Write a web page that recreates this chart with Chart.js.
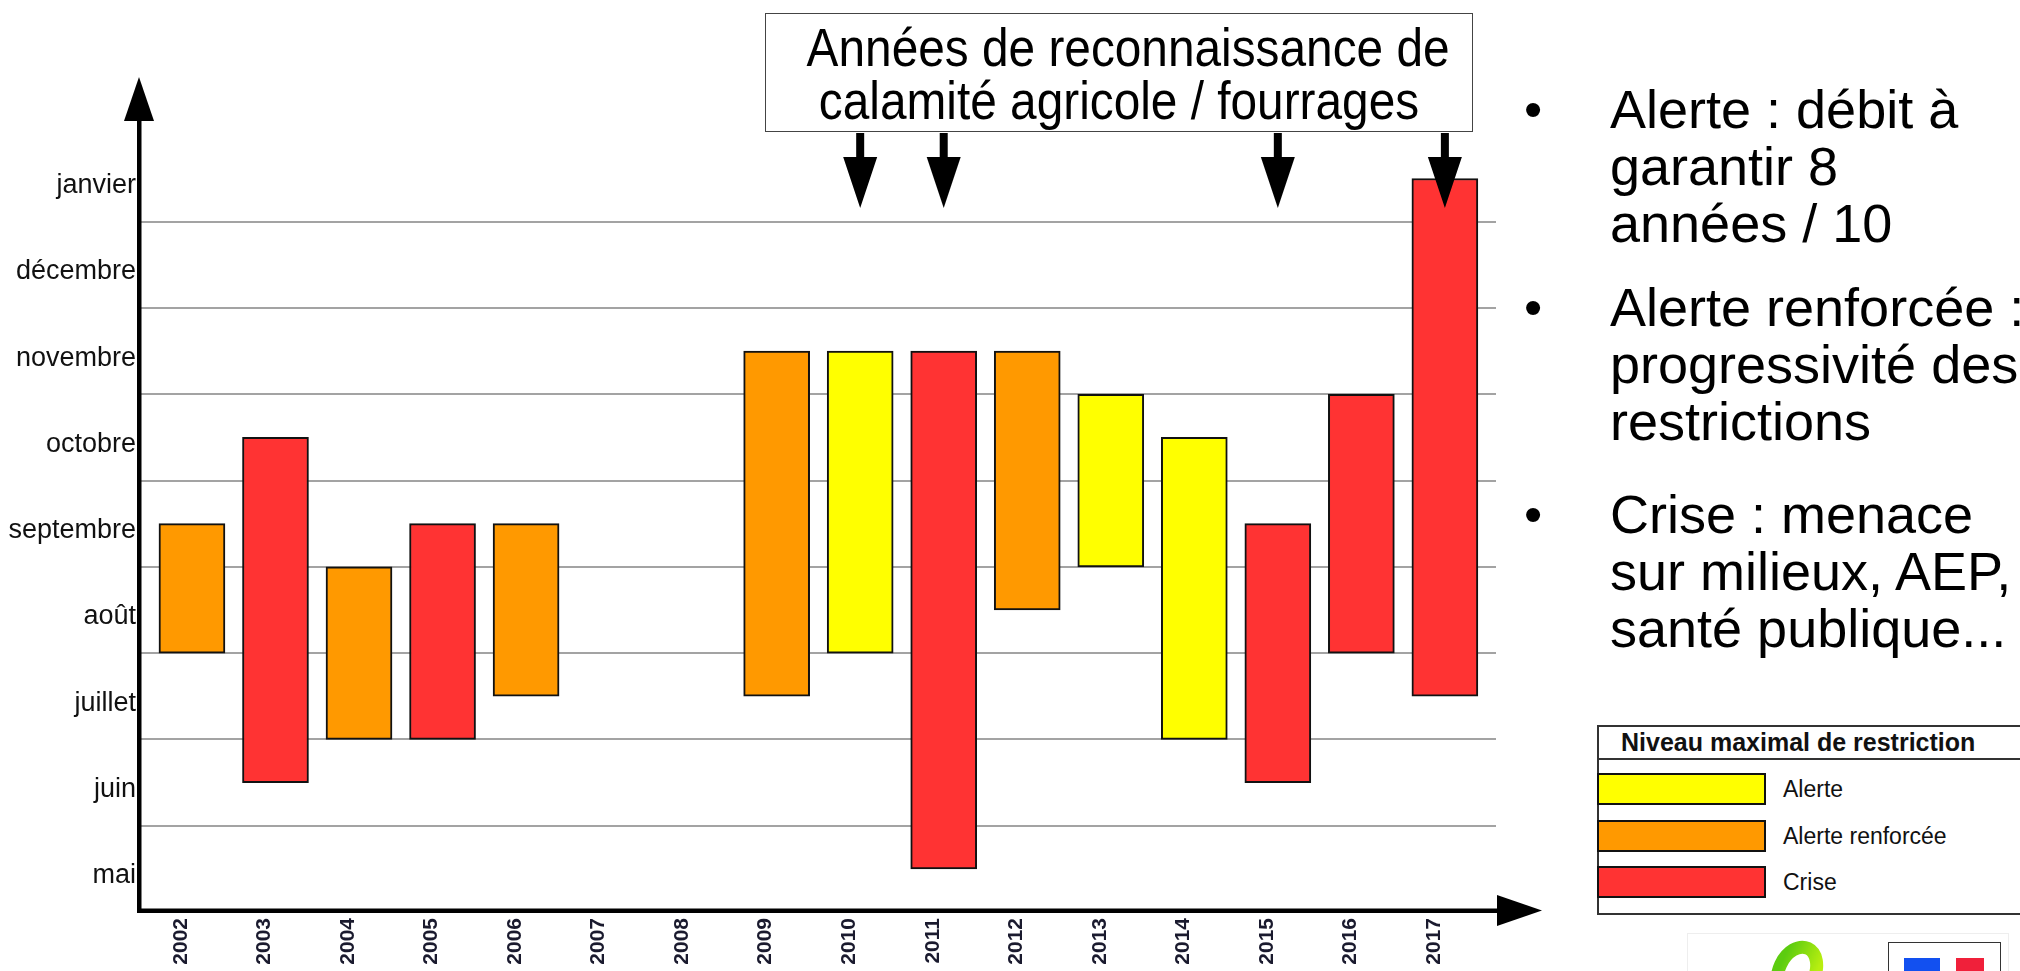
<!DOCTYPE html>
<html><head><meta charset="utf-8">
<script src="https://cdn.jsdelivr.net/npm/chart.js@4.4.0/dist/chart.umd.min.js"></script>
<style>
html,body{margin:0;padding:0;background:#fff;width:2020px;height:971px;overflow:hidden;}
body{position:relative;font-family:'Liberation Sans',Arial,sans-serif;color:#000;}
#wrap{position:absolute;left:0;top:0;width:2020px;height:971px;}
#note{position:absolute;left:765px;top:13px;width:708px;height:119px;border:1.5px solid #444;background:#fff;box-sizing:border-box;overflow:hidden;}
#note div{position:absolute;left:0;width:100%;text-align:center;font-size:54px;line-height:52px;white-space:nowrap;transform:scaleX(0.885);transform-origin:50% 50%;}
.para{position:absolute;left:1610px;font-size:54px;line-height:57px;white-space:nowrap;}
.para .b{position:absolute;left:-86px;top:0;font-size:52px;}
#legend{position:absolute;left:1597px;top:725px;width:500px;height:190px;border:2px solid #333;box-sizing:border-box;background:#fff;}
#legend .t{height:31px;border-bottom:2px solid #333;font-weight:bold;font-size:25px;line-height:31px;padding-left:22px;color:#111;white-space:nowrap;}
.li{position:absolute;left:-2px;height:32px;}
.li .sw{position:absolute;left:0;top:0;width:169px;height:32px;border:2px solid #111;box-sizing:border-box;}
.li .lb{position:absolute;left:186px;top:0;line-height:32px;font-size:23px;color:#111;white-space:nowrap;}
</style></head>
<body>
<div id="wrap"><canvas id="c" width="2020" height="971"></canvas></div>
<div id="note"><div style="top:7px">Années de reconnaissance de</div><div style="top:60px">calamité agricole / fourrages</div></div>
<div class="para" style="top:81px"><span class="b">•</span>Alerte : débit à<br>garantir 8<br>années / 10</div>
<div class="para" style="top:279px"><span class="b">•</span>Alerte renforcée :<br>progressivité des<br>restrictions</div>
<div class="para" style="top:486px"><span class="b">•</span>Crise : menace<br>sur milieux, AEP,<br>santé publique...</div>
<div id="legend"><div class="t">Niveau maximal de restriction</div></div>
<div style="position:absolute;left:1687px;top:933px;width:320px;height:40px;border:1px solid #eee;border-bottom:none;"></div>
<svg style="position:absolute;left:1735px;top:930px" width="110" height="41">
  <defs><linearGradient id="gg" x1="0" y1="0" x2="1" y2="0"><stop offset="0" stop-color="#5ccc10"/><stop offset="1" stop-color="#b8ee10"/></linearGradient></defs>
  <ellipse cx="62" cy="42" rx="18" ry="26" transform="rotate(25 62 42)" fill="none" stroke="url(#gg)" stroke-width="13"/>
</svg>
<div style="position:absolute;left:1888px;top:942px;width:113px;height:40px;border:1.5px solid #333;box-sizing:border-box;"></div>
<div style="position:absolute;left:1904px;top:958px;width:36px;height:14px;background:#1250f0;"></div>
<div style="position:absolute;left:1956px;top:958px;width:28px;height:14px;background:#f0203a;"></div>
<script>
const years = [2002,2003,2004,2005,2006,2007,2008,2009,2010,2011,2012,2013,2014,2015,2016,2017];
const lows  = [3, 1.5, 2, 2, 2.5, null, null, 2.5, 3, 0.5, 3.5, 4, 2, 1.5, 3, 2.5];
const highs = [4.5, 5.5, 4, 4.5, 4.5, null, null, 6.5, 6.5, 6.5, 6.5, 6, 5.5, 4.5, 6, 8.5];
const levels = [1, 2, 1, 2, 1, null, null, 1, 0, 2, 1, 0, 0, 2, 2, 2];
const monthLabels = ['mai','juin','juillet','août','septembre','octobre','novembre','décembre','janvier'];
const levelNames = ['Alerte','Alerte renforcée','Crise'];
const levelColors = ['#ffff00','#ff9900','#ff3333'];
const calamityYears = [2010, 2011, 2015, 2017];

// legend
const lg = document.getElementById('legend');
levelNames.forEach((n,i)=>{
  const d = document.createElement('div');
  d.className='li'; d.style.top = (46 + i*46.5)+'px';
  d.innerHTML = '<div class="sw" style="background:'+levelColors[i]+'"></div><div class="lb">'+n+'</div>';
  lg.appendChild(d);
});

const pts = [], cols = [];
years.forEach((y,i)=>{ if(lows[i]!=null){ pts.push({x:y, y:[lows[i], highs[i]]}); cols.push(levelColors[levels[i]]); } });

const deco = {
  id:'deco',
  afterDatasetsDraw(chart){
    const ctx = chart.ctx, xs = chart.scales.x, ys = chart.scales.y;
    const ax = chart.chartArea.left, ay = ys.getPixelForValue(0) - 1.5;
    ctx.save();
    ctx.fillStyle = '#000'; ctx.strokeStyle = '#000';
    // y axis
    ctx.fillRect(ax-2, 118, 4.5, ay-118+2);
    ctx.beginPath(); ctx.moveTo(ax, 77); ctx.lineTo(ax-15, 121); ctx.lineTo(ax+15, 121); ctx.closePath(); ctx.fill();
    // x axis
    ctx.fillRect(ax-2, ay-2, 1500-ax+2, 4.5);
    ctx.beginPath(); ctx.moveTo(1542, ay); ctx.lineTo(1497, ay-15.5); ctx.lineTo(1497, ay+15.5); ctx.closePath(); ctx.fill();
    // calamity arrows
    calamityYears.forEach(yr=>{
      const px = xs.getPixelForValue(yr);
      ctx.fillRect(px-4, 133, 8, 28);
      ctx.beginPath(); ctx.moveTo(px-17, 157); ctx.lineTo(px+17, 157); ctx.lineTo(px, 208); ctx.closePath(); ctx.fill();
    });
    ctx.restore();
  }
};

new Chart(document.getElementById('c'), {
  type:'bar',
  data:{ datasets:[{ data: pts, backgroundColor: cols, borderColor:'#111', borderWidth:2, borderSkipped:false, barThickness:66 }] },
  options:{
    responsive:false, animation:false, events:[],
    layout:{ padding:{ left:0, right:524, top:80, bottom:0 } },
    plugins:{ legend:{display:false}, tooltip:{enabled:false} },
    scales:{
      x:{ type:'linear', offset:false, min:2001.366, max:2017.612,
        afterBuildTicks(s){ s.ticks = years.map(v=>({value:v})); },
        afterFit(s){ s.height = 59; },
        grid:{ display:false, drawTicks:false, offset:false }, border:{ display:false },
        ticks:{ autoSkip:false, minRotation:90, maxRotation:90, padding:6, labelOffset:-11,
          color:'#1a1a2e', font:{ family:"'Liberation Sans'", size:21, weight:'bold' },
          callback:v=>String(v) } },
      y:{ type:'linear', min:0, max:9.641,
        afterBuildTicks(s){ const t=[]; for(let v=0; v<=9; v+=0.5) t.push({value:v}); s.ticks=t; },
        afterFit(s){ s.width = 139; },
        grid:{ drawTicks:false, lineWidth:2,
          color:c=> (c.tick && Number.isInteger(c.tick.value) && c.tick.value>=1 && c.tick.value<=8) ? '#a3a3a3' : 'rgba(0,0,0,0)' },
        border:{ display:false },
        ticks:{ autoSkip:false, padding:3, labelOffset:7, color:'#111',
          font:{ family:"'Liberation Sans'", size:27 },
          callback:v=> (Math.abs(v % 1 - 0.5) < 1e-6) ? monthLabels[Math.floor(v)] : '' } }
    }
  },
  plugins:[deco]
});
</script>
</body></html>
